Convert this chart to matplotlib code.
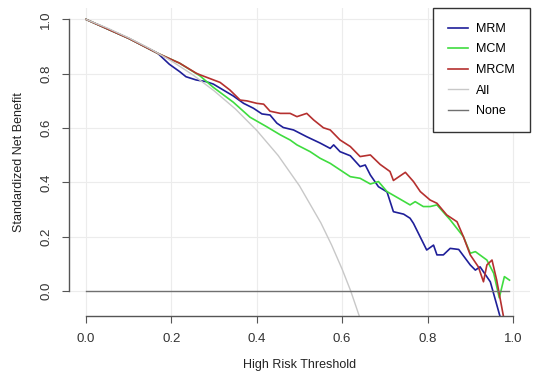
import matplotlib
matplotlib.use("Agg")
import matplotlib.pyplot as plt

# threshold / standardized net benefit
mrm_x = [0.00, 0.05, 0.10, 0.168, 0.195, 0.219, 0.234, 0.258, 0.281, 0.298, 0.345, 0.369,
         0.392, 0.412, 0.431, 0.447, 0.462, 0.486, 0.517, 0.548, 0.572, 0.580, 0.595, 0.619,
         0.642, 0.654, 0.666, 0.685, 0.705, 0.720, 0.744, 0.759, 0.767, 0.798, 0.814, 0.822,
         0.837, 0.853, 0.873, 0.900, 0.912, 0.923, 0.947, 0.970]
mrm_y = [1.000, 0.965, 0.930, 0.875, 0.835, 0.808, 0.789, 0.777, 0.771, 0.762, 0.718, 0.691,
         0.673, 0.652, 0.648, 0.618, 0.602, 0.593, 0.568, 0.545, 0.525, 0.538, 0.513, 0.498,
         0.458, 0.464, 0.427, 0.384, 0.365, 0.292, 0.283, 0.268, 0.249, 0.151, 0.169, 0.133,
         0.133, 0.157, 0.153, 0.096, 0.077, 0.089, 0.034, -0.095]

mcm_x = [0.00, 0.05, 0.10, 0.168, 0.219, 0.267, 0.298, 0.345, 0.384, 0.423, 0.455, 0.478,
         0.494, 0.525, 0.548, 0.572, 0.595, 0.619, 0.642, 0.666, 0.685, 0.705, 0.736, 0.759,
         0.771, 0.790, 0.806, 0.822, 0.853, 0.884, 0.900, 0.912, 0.939, 0.955, 0.968, 0.980,
         0.992]
mcm_y = [1.000, 0.965, 0.930, 0.875, 0.839, 0.792, 0.750, 0.695, 0.640, 0.605, 0.575, 0.556,
         0.538, 0.513, 0.489, 0.470, 0.446, 0.421, 0.415, 0.394, 0.403, 0.366, 0.338, 0.317,
         0.329, 0.311, 0.311, 0.317, 0.262, 0.200, 0.139, 0.145, 0.114, 0.065, -0.025, 0.053,
         0.040]

mrcm_x = [0.00, 0.05, 0.10, 0.168, 0.219, 0.258, 0.267, 0.314, 0.337, 0.361, 0.377, 0.400,
          0.416, 0.431, 0.455, 0.478, 0.494, 0.517, 0.533, 0.556, 0.572, 0.595, 0.619, 0.642,
          0.666, 0.689, 0.712, 0.720, 0.748, 0.767, 0.783, 0.806, 0.822, 0.845, 0.869, 0.884,
          0.900, 0.919, 0.931, 0.939, 0.951, 0.962, 0.978]
mrcm_y = [1.000, 0.965, 0.930, 0.875, 0.839, 0.802, 0.796, 0.768, 0.740, 0.703, 0.700, 0.691,
          0.688, 0.662, 0.654, 0.654, 0.642, 0.654, 0.630, 0.601, 0.593, 0.556, 0.532, 0.495,
          0.501, 0.466, 0.440, 0.407, 0.437, 0.403, 0.366, 0.335, 0.323, 0.280, 0.255, 0.200,
          0.133, 0.089, 0.034, 0.096, 0.114, 0.040, -0.095]

all_x = [0.00, 0.05, 0.10, 0.15, 0.20, 0.25, 0.30, 0.35, 0.40, 0.45, 0.50, 0.55, 0.575,
         0.60, 0.62, 0.64]
all_y = [1.000, 0.968, 0.932, 0.892, 0.847, 0.796, 0.737, 0.670, 0.591, 0.499, 0.387, 0.251,
         0.170, 0.080, 0.000, -0.092]

none_x = [0.0, 0.99]
none_y = [0.0, 0.0]

ticks = [0.0, 0.2, 0.4, 0.6, 0.8, 1.0]
tick_labels = ["0.0", "0.2", "0.4", "0.6", "0.8", "1.0"]

plt.rcParams['font.family'] = ['Liberation Sans', 'DejaVu Sans']

fig = plt.figure(figsize=(5.36, 3.81), dpi=100)
ax = fig.add_axes([69 / 536, 1 - 316 / 381, (530 - 69) / 536, (316 - 8) / 381])

ax.plot(mrm_x, mrm_y, color="#1f1f99", lw=1.2, label="MRM")
ax.plot(mcm_x, mcm_y, color="#3fdc3f", lw=1.2, label="MCM")
ax.plot(mrcm_x, mrcm_y, color="#b5302f", lw=1.2, label="MRCM")
ax.plot(all_x, all_y, color="#c8c8c8", lw=1.0, label="All")
ax.plot(none_x, none_y, color="#707070", lw=1.0, label="None")

ax.set_xlim(-0.04, 1.04)
ax.set_ylim(-0.092, 1.042)
ax.set_xticks(ticks)
ax.set_xticklabels(tick_labels)
ax.set_yticks(ticks)
ax.set_yticklabels(tick_labels)
ax.grid(True, color="#ececec", lw=0.8)
ax.set_axisbelow(True)

for s in ["top", "right"]:
    ax.spines[s].set_visible(False)
ax.spines["left"].set_bounds(0, 1)
ax.spines["bottom"].set_bounds(0, 1)
for s in ["left", "bottom"]:
    ax.spines[s].set_color("#555555")
    ax.spines[s].set_linewidth(1.0)
ax.tick_params(colors="#555555", labelcolor="#333333", labelsize=9.5, length=5, pad=7)
ax.tick_params(axis="y", labelrotation=90)
for lab in ax.get_yticklabels():
    lab.set_verticalalignment("center")

ax.set_xlabel("High Risk Threshold", fontsize=9, color="#222222", labelpad=10)
ax.set_ylabel("Standardized Net Benefit", fontsize=9, color="#222222", labelpad=11)

leg = ax.legend(loc="upper right", bbox_to_anchor=(1.0, 1.0), fontsize=9, frameon=True,
                fancybox=False, edgecolor="#333333", framealpha=1, handlelength=1.6,
                labelspacing=0.68, borderpad=1.2, handletextpad=0.7, borderaxespad=0)
leg.get_frame().set_linewidth(1.0)

fig.savefig("out.png", dpi=100)
